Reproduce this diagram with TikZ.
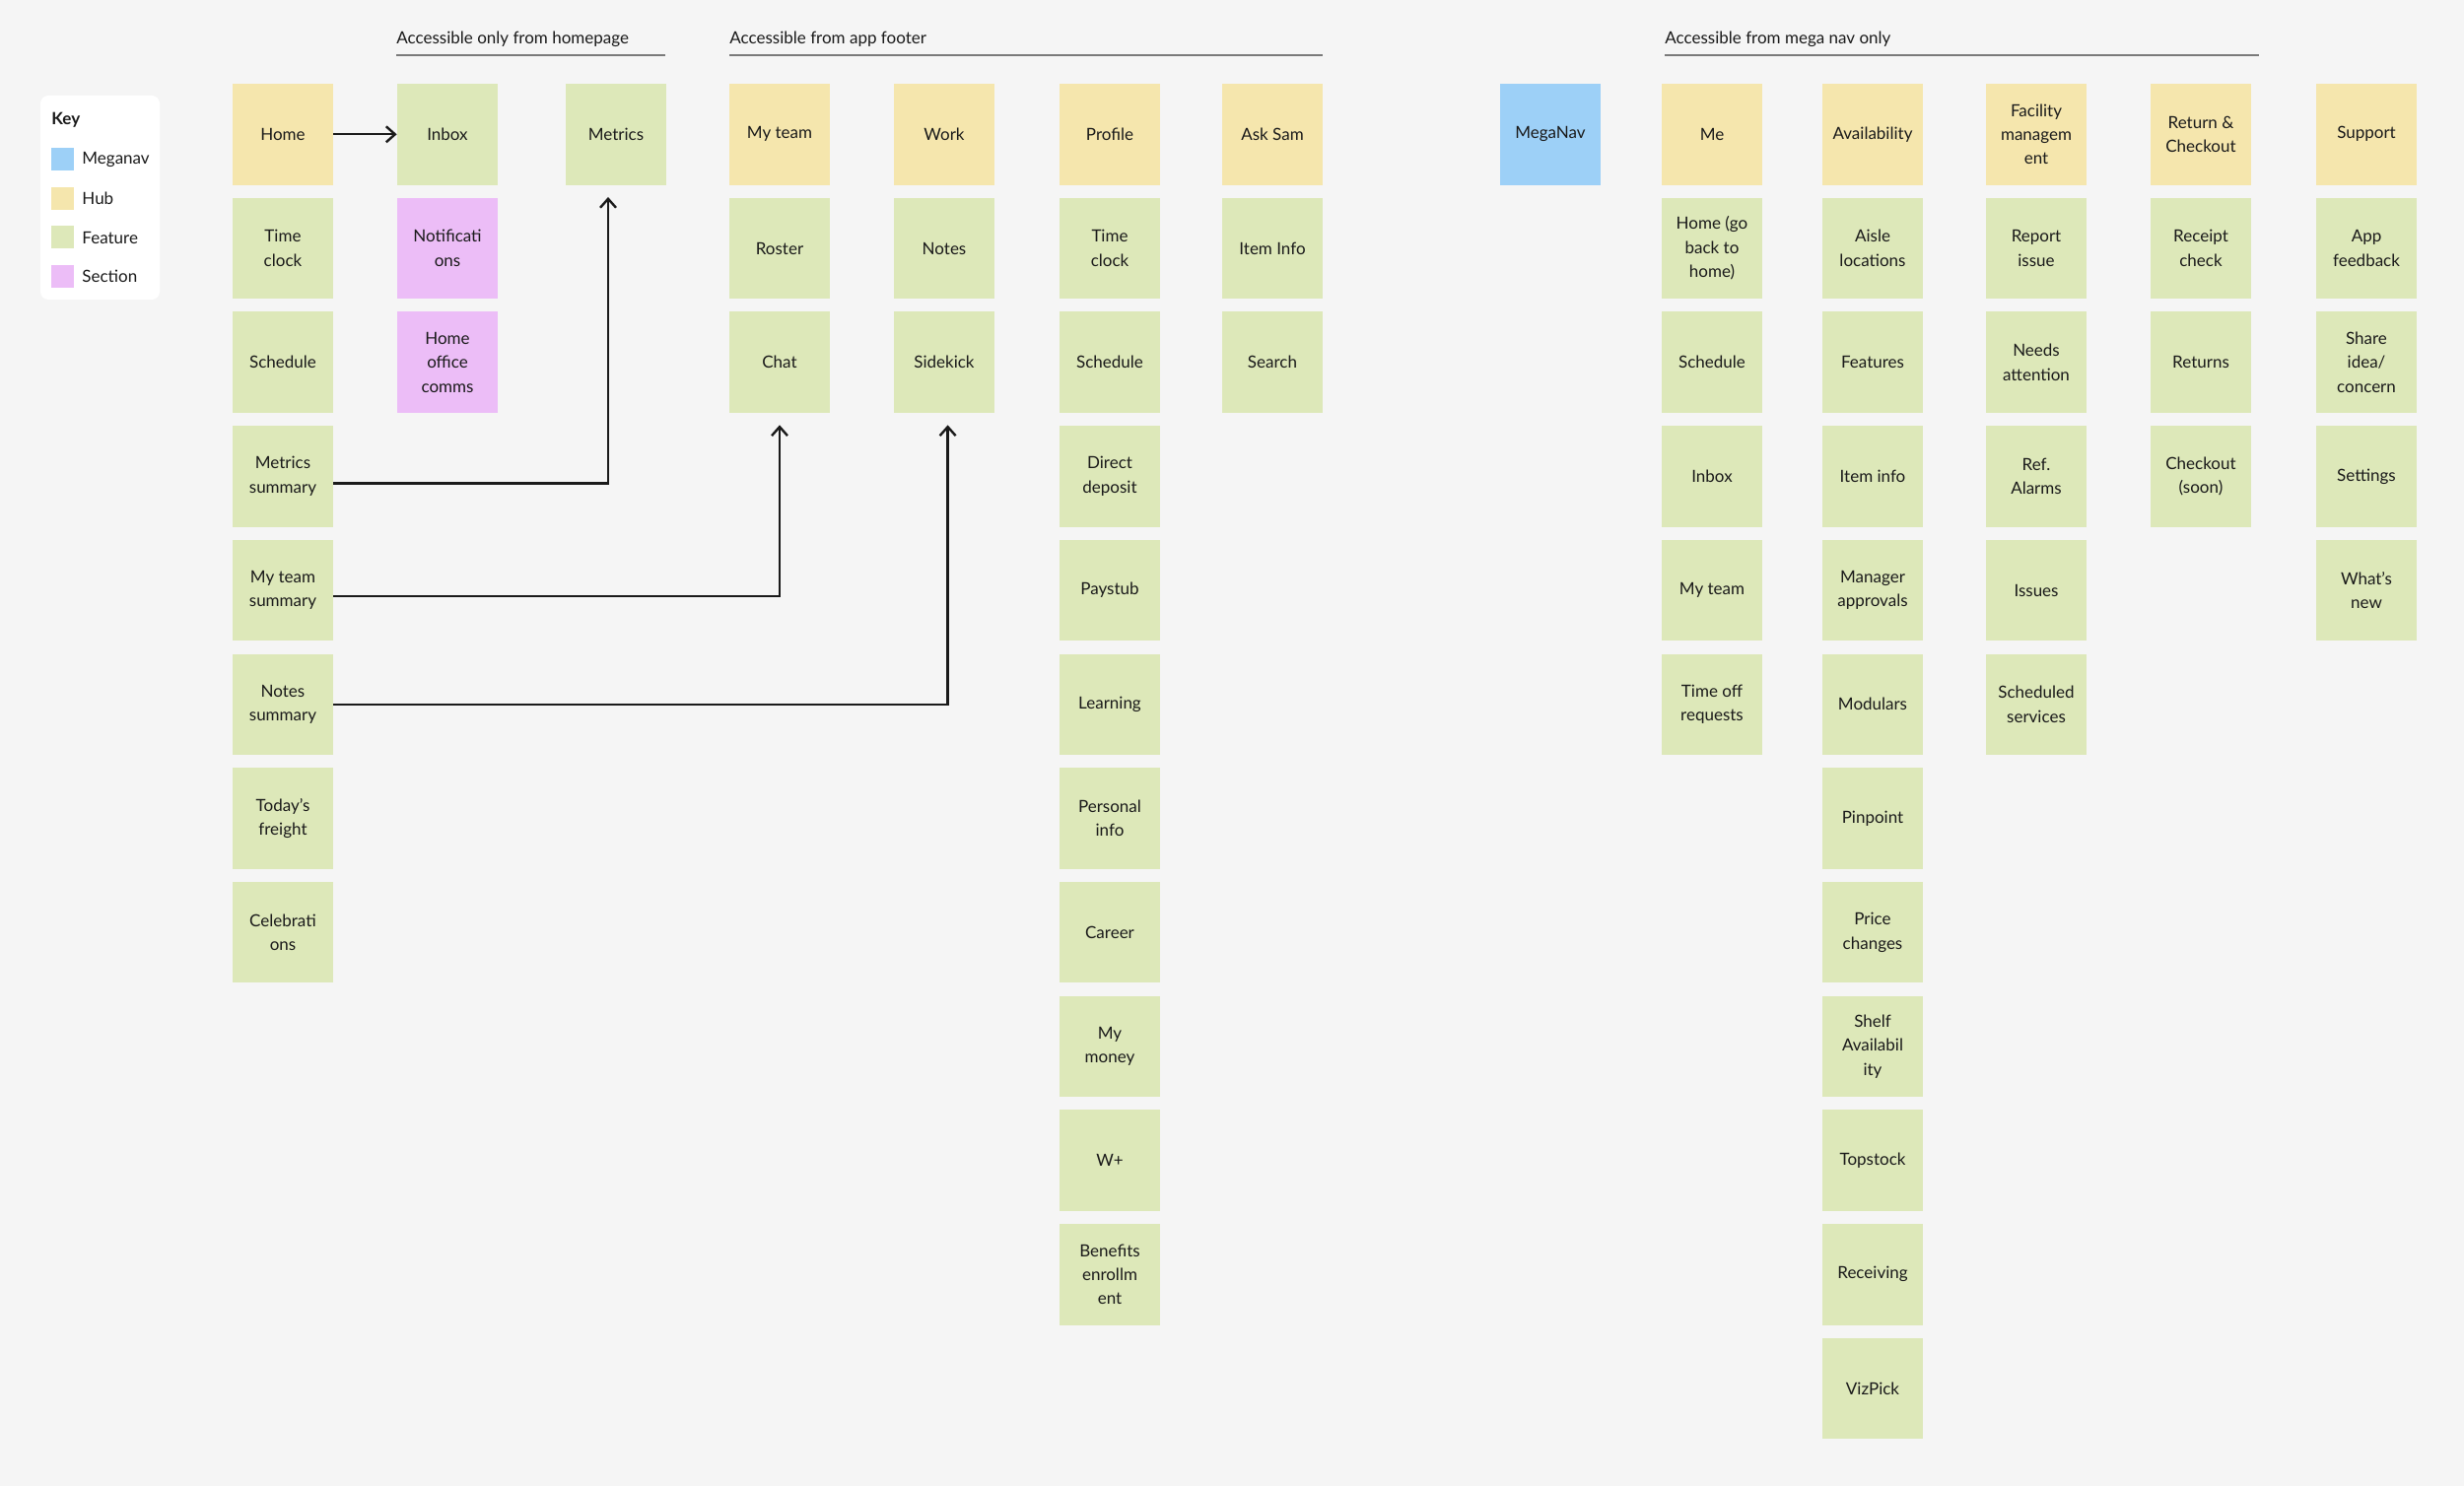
\documentclass[tikz,border=0pt]{standalone}
\usepackage{fontspec}
\setmainfont{Lato}
\usetikzlibrary{arrows.meta}
\definecolor{bg}{HTML}{F5F5F5}
\definecolor{hubc}{HTML}{F5E6AD}
\definecolor{featc}{HTML}{DDE8B9}
\definecolor{secc}{HTML}{ECBDF7}
\definecolor{navc}{HTML}{9DD0F7}
\definecolor{txt}{HTML}{1A1A1A}
\definecolor{rule}{HTML}{7A7A7A}
\tikzset{
  cell/.style={minimum width=51pt, minimum height=51.25pt, inner sep=0pt, align=center,
    text=txt, font=\fontsize{8.5pt}{12.2pt}\selectfont},
  hubbox/.style={cell, fill=hubc},
  featbox/.style={cell, fill=featc},
  secbox/.style={cell, fill=secc},
  navbox/.style={cell, fill=navc},
  header/.style={anchor=west, inner sep=0pt, text=txt, font=\fontsize{8.5pt}{10pt}\selectfont},
  hrule/.style={draw=rule, line width=1pt},
  keylabel/.style={anchor=west, inner sep=0pt, text=txt, font=\fontsize{8.5pt}{10pt}\selectfont},
  swatch/.style={minimum width=11.5pt, minimum height=11.5pt, inner sep=0pt, anchor=north west},
  conn/.style={draw=txt, line width=1.2pt, -{Straight Barb[length=4.5pt,width=8pt,line width=1.2pt]}},
}
\begin{document}
\begin{tikzpicture}[x=0.5pt,y=-0.5pt]
\useasboundingbox (0,0) rectangle (2500,1508);
\fill[bg] (0,0) rectangle (2500,1508);

% Key
\fill[white, rounded corners=4pt] (41,97) rectangle (162,304);
\node[keylabel, font=\fontsize{8.5pt}{10pt}\selectfont\bfseries] (keytitle) at (52,122) {Key};
\node[swatch, fill=navc] (sw1) at (52,150) {};
\node[swatch, fill=hubc] (sw2) at (52,189.5) {};
\node[swatch, fill=featc] (sw3) at (52,229) {};
\node[swatch, fill=secc] (sw4) at (52,268.5) {};
\node[keylabel] (kl1) at (83,162) {Meganav};
\node[keylabel] (kl2) at (83,201.5) {Hub};
\node[keylabel] (kl3) at (83,241) {Feature};
\node[keylabel] (kl4) at (83,280.5) {Section};

% Headers
\node[header] (h1) at (402,40) {Accessible only from homepage};
\draw[hrule] (402,55.8) -- (675,55.8);
\node[header] (h2) at (740,40) {Accessible from app footer};
\draw[hrule] (740,55.8) -- (1342,55.8);
\node[header] (h3) at (1689,40) {Accessible from mega nav only};
\draw[hrule] (1689,55.8) -- (2292,55.8);

% Column A
\node[hubbox]  (home)  at (287,136.3) {Home};
\node[featbox] (tclock) at (287,252.0) {Time\\clock};
\node[featbox] (sched) at (287,367.7) {Schedule};
\node[featbox] (msum)  at (287,483.4) {Metrics\\summary};
\node[featbox] (mtsum) at (287,599.1) {My team\\summary};
\node[featbox] (nsum)  at (287,714.8) {Notes\\summary};
\node[featbox] (freight) at (287,830.5) {Today’s\\freight};
\node[featbox] (celeb) at (287,946.2) {Celebrati\\ons};

% Column B
\node[featbox] (inbox) at (454,136.3) {Inbox};
\node[secbox]  (notif) at (454,252.0) {Notificati\\ons};
\node[secbox]  (hoc)   at (454,367.7) {Home\\office\\comms};

% Column C
\node[featbox] (metrics) at (625,136.3) {Metrics};

% Column D
\node[hubbox]  (myteam) at (791,136.3) {My team};
\node[featbox] (roster) at (791,252.0) {Roster};
\node[featbox] (chat)   at (791,367.7) {Chat};

% Column E
\node[hubbox]  (work)  at (958,136.3) {Work};
\node[featbox] (notes) at (958,252.0) {Notes};
\node[featbox] (sidekick) at (958,367.7) {Sidekick};

% Column F
\node[hubbox]  (profile) at (1126,136.3) {Profile};
\node[featbox] (ptclock) at (1126,252.0) {Time\\clock};
\node[featbox] (psched)  at (1126,367.7) {Schedule};
\node[featbox] (ddep)    at (1126,483.4) {Direct\\deposit};
\node[featbox] (paystub) at (1126,599.1) {Paystub};
\node[featbox] (learn)   at (1126,714.8) {Learning};
\node[featbox] (pinfo)   at (1126,830.5) {Personal\\info};
\node[featbox] (career)  at (1126,946.2) {Career};
\node[featbox] (mymoney) at (1126,1061.9) {My\\money};
\node[featbox] (wplus)   at (1126,1177.6) {W+};
\node[featbox] (benef)   at (1126,1293.3) {Benefits\\enrollm\\ent};

% Column G
\node[hubbox]  (asksam) at (1291,136.3) {Ask Sam};
\node[featbox] (iteminfo) at (1291,252.0) {Item Info};
\node[featbox] (search) at (1291,367.7) {Search};

% MegaNav
\node[navbox] (meganav) at (1573,136.3) {MegaNav};

% Me
\node[hubbox]  (me)     at (1737,136.3) {Me};
\node[featbox] (mehome) at (1737,252.0) {Home (go\\back to\\home)};
\node[featbox] (mesched) at (1737,367.7) {Schedule};
\node[featbox] (meinbox) at (1737,483.4) {Inbox};
\node[featbox] (memyteam) at (1737,599.1) {My team};
\node[featbox] (timeoff) at (1737,714.8) {Time off\\requests};

% Availability
\node[hubbox]  (avail)  at (1900,136.3) {Availability};
\node[featbox] (aisle)  at (1900,252.0) {Aisle\\locations};
\node[featbox] (feat)   at (1900,367.7) {Features};
\node[featbox] (iinfo)  at (1900,483.4) {Item info};
\node[featbox] (mgr)    at (1900,599.1) {Manager\\approvals};
\node[featbox] (modul)  at (1900,714.8) {Modulars};
\node[featbox] (pinp)   at (1900,830.5) {Pinpoint};
\node[featbox] (price)  at (1900,946.2) {Price\\changes};
\node[featbox] (shelf)  at (1900,1061.9) {Shelf\\Availabil\\ity};
\node[featbox] (topst)  at (1900,1177.6) {Topstock};
\node[featbox] (recv)   at (1900,1293.3) {Receiving};
\node[featbox] (vizp)   at (1900,1409.0) {VizPick};

% Facility management
\node[hubbox]  (fac)    at (2066,136.3) {Facility\\managem\\ent};
\node[featbox] (report) at (2066,252.0) {Report\\issue};
\node[featbox] (needs)  at (2066,367.7) {Needs\\attention};
\node[featbox] (alarms) at (2066,483.4) {Ref.\\Alarms};
\node[featbox] (issues) at (2066,599.1) {Issues};
\node[featbox] (sserv)  at (2066,714.8) {Scheduled\\services};

% Return & Checkout
\node[hubbox]  (ret)    at (2233,136.3) {Return \&\\Checkout};
\node[featbox] (receipt) at (2233,252.0) {Receipt\\check};
\node[featbox] (returns) at (2233,367.7) {Returns};
\node[featbox] (chkout) at (2233,483.4) {Checkout\\(soon)};

% Support
\node[hubbox]  (support) at (2401,136.3) {Support};
\node[featbox] (appfb)  at (2401,252.0) {App\\feedback};
\node[featbox] (share)  at (2401,367.7) {Share\\idea/\\concern};
\node[featbox] (settings) at (2401,483.4) {Settings};
\node[featbox] (whatsnew) at (2401,599.1) {What’s\\new};

% Connectors
\draw[conn] (home.east) -- (inbox.west);
\draw[conn] ([yshift=-3.5pt]msum.east) -| ([xshift=-4pt,yshift=-6pt]metrics.south);
\draw[conn] ([yshift=-3pt]mtsum.east) -| ([yshift=-6pt]chat.south);
\draw[conn] (nsum.east) -| ([xshift=1.8pt,yshift=-6pt]sidekick.south);
\end{tikzpicture}
\end{document}
